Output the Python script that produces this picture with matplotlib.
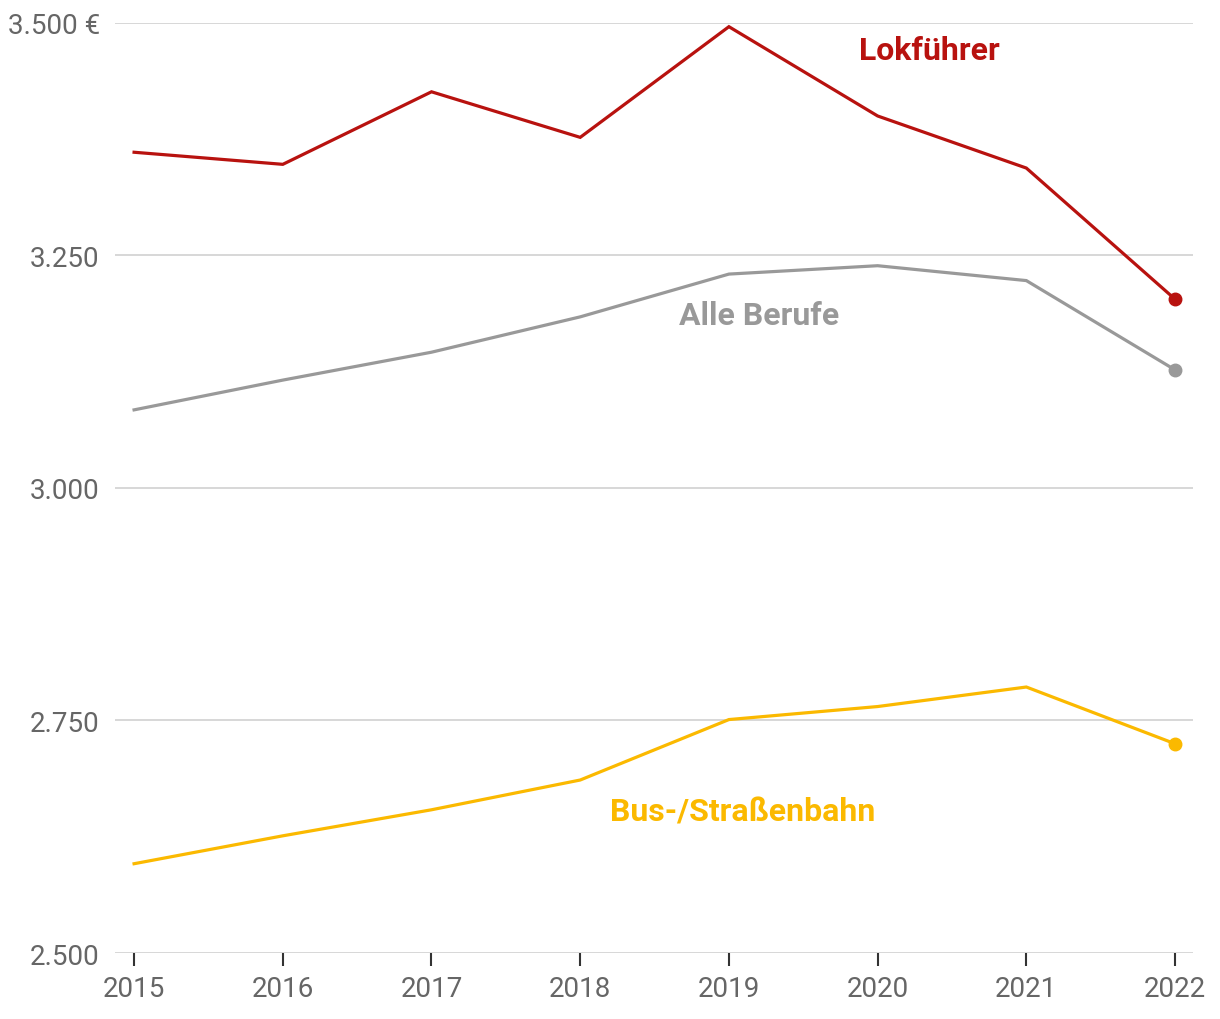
import matplotlib
matplotlib.use("Agg")
import matplotlib.pyplot as plt
import matplotlib.ticker as mticker

years = [2015, 2016, 2017, 2018, 2019, 2020, 2021, 2022]
lokfuehrer = [3361, 3348, 3426, 3377, 3496, 3400, 3344, 3203]
alle_berufe = [3084, 3116, 3146, 3184, 3230, 3239, 3223, 3127]
bus_strassenbahn = [2596, 2626, 2654, 2686, 2751, 2765, 2786, 2725]

y_ticks = [2500, 2750, 3000, 3250, 3500]
y_labels = ["2.500", "2.750", "3.000", "3.250", "3.500 €"]

# name, values, colour, label position (year, baseline value)
series = [
    ("Lokführer", lokfuehrer, "#b8120f", (2020.346, 3461)),
    ("Alle Berufe", alle_berufe, "#999999", (2019.206, 3176)),
    ("Bus-/Straßenbahn", bus_strassenbahn, "#fbb900", (2019.09, 2642)),
]

plt.rcParams["font.family"] = ["Roboto", "DejaVu Sans"]

fig = plt.figure(figsize=(12.2, 10.2), dpi=100)
ax = fig.add_axes([0.0943, 0.0647, 0.8836, 0.9118])

for name, vals, col, (lx, ly) in series:
    ax.plot(years, vals, color=col, lw=2.3, solid_joinstyle="miter", zorder=3)
    ax.plot(years[-1], vals[-1], "o", color=col, ms=9, zorder=4)
    ax.text(lx, ly, name, color=col, fontsize=23, fontweight="bold",
            ha="center", va="baseline")

ax.set_xlim(2014.872, 2022.121)
ax.set_ylim(2500, 3500)
ax.set_yticks(y_ticks)
ax.yaxis.set_major_formatter(mticker.FixedFormatter(y_labels))
ax.set_xticks(years)
ax.grid(axis="y", color="#d4d4d4", lw=1.3, zorder=0)
for s in ax.spines.values():
    s.set_visible(False)
ax.tick_params(axis="y", length=0, pad=11, labelsize=20, labelcolor="#666666")
ax.tick_params(axis="x", length=9, width=1.5, color="#333333", pad=7,
               labelsize=20, labelcolor="#666666")

fig.savefig("out.png", dpi=100)
